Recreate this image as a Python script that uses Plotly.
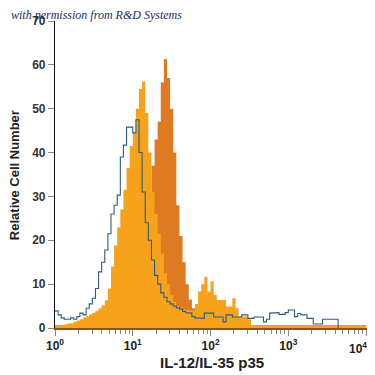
import numpy as np
import plotly.graph_objects as go

# Histogram bins in log10 units (0.04 decade wide), 0..4
n_bins = 100
bin_edges_log = np.linspace(0, 4, n_bins + 1)

# Isotype control (blue outline)
isotype_counts = [
    3.9, 3.0, 2.3, 2.0, 2.0, 2.3, 2.0, 2.6, 3.4, 3.0,
    4.5, 5.5, 6.8, 9.0, 12.8, 15.0, 17.8, 21.5, 26.0, 28.0,
    30.3, 39.0, 41.7, 45.8, 45.8, 44.5, 47.5, 40.0, 31.0, 24.0,
    20.0, 15.5, 12.0, 10.0, 8.0, 7.0, 6.0, 5.5, 5.0, 4.6,
    4.3, 3.8, 3.5, 3.4, 2.6, 2.3, 2.2, 2.2, 3.4, 3.4,
    3.4, 2.5, 2.5, 2.5, 1.4, 3.0, 3.0, 2.5, 2.5, 2.5,
    3.0, 3.0, 2.2, 2.2, 2.5, 2.5, 2.5, 1.4, 2.0, 3.4,
    3.4, 3.5, 3.1, 3.1, 3.5, 4.1, 4.1, 2.6, 3.3, 3.0,
    3.0, 2.2, 2.2, 0.9, 0.9, 0.9, 2.0, 2.0, 2.0, 2.0,
    2.0,
]

# Stained sample 1 (light orange fill)
light_counts = [
    0.5, 0.6, 0.7, 0.8, 1.0, 1.1, 1.4, 1.7, 2.0, 2.4,
    2.7, 3.1, 3.5, 3.9, 4.5, 5.2, 6.3, 9.0, 14.0, 18.8,
    23.0, 27.0, 31.5, 36.5, 41.5, 44.5, 50.0, 54.5, 56.2, 49.0,
    40.0, 31.0, 26.0, 21.5, 17.0, 12.5, 10.0, 7.5, 6.0, 5.0,
    4.7, 4.3, 4.1, 4.0, 4.0, 5.5, 8.3, 10.0, 11.7, 8.3,
    10.6, 7.5, 6.4, 6.4, 6.4, 4.9, 4.9, 6.8, 4.5, 2.6,
    2.6, 2.6, 2.0, 0.7, 0.7, 0.7, 0.7, 0.7, 0.7, 0.7,
    0.7, 0.7, 0.7, 0.7, 0.7, 0.7, 0.7, 0.7, 0.7, 0.7,
    0.7, 0.7, 0.7, 0.7, 0.7, 0.7, 0.7, 0.7, 0.7, 0.7,
    0.7, 0.7, 0.7, 0.7, 0.7, 0.7, 0.7, 0.7, 0.7, 0.7,
]

# Stained sample 2 (dark orange fill)
dark_counts = [
    0.6, 0.6, 0.6, 0.6, 0.6, 0.6, 0.6, 0.6, 0.6, 0.6,
    0.6, 0.6, 0.6, 0.6, 0.6, 0.6, 0.6, 1.0, 2.0, 3.0,
    5.0, 7.0, 9.0, 11.0, 14.0, 17.0, 20.0, 23.0, 26.0, 28.0,
    31.0, 37.0, 43.0, 47.0, 56.0, 61.3, 57.0, 50.0, 40.0, 28.0,
    21.0, 15.0, 10.0, 6.5, 4.5, 3.5, 3.0, 3.0, 3.0, 2.5,
    2.0, 1.5, 1.0, 0.6, 0.6, 0.6, 0.6, 0.6, 0.6, 0.6,
    0.6, 0.6, 0.6, 0.6, 0.6, 0.6, 0.6, 0.6, 0.6, 0.6,
    0.6, 0.6, 0.6, 0.6, 0.6, 0.6, 0.6, 0.6, 0.6, 0.6,
    0.6, 0.6, 0.6, 0.6, 0.6, 0.6, 0.6, 0.6, 0.6, 0.6,
    0.6, 0.6, 0.6, 0.6, 0.6, 0.6, 0.6, 0.6, 0.6, 0.6,
]

x_tick_exps = [0, 1, 2, 3, 4]
x_tick_labels = ["10<sup>0</sup>", "10<sup>1</sup>", "10<sup>2</sup>", "10<sup>3</sup>", "10<sup>4</sup>"]
y_tick_vals = [0, 10, 20, 30, 40, 50, 60, 70]

LIGHT = "#F7A21B"
DARK = "#DE7A22"
BLUE = "#2D5E7E"


def step_fill(counts):
    xs, ys = [], []
    n = len(counts)
    for i, c in enumerate(counts):
        xs += [10 ** bin_edges_log[i], 10 ** bin_edges_log[i + 1]]
        ys += [c, c]
    xs = [10 ** bin_edges_log[0]] + xs + [10 ** bin_edges_log[n]]
    ys = [0] + ys + [0]
    return xs, ys


fig = go.Figure()

dx, dy = step_fill(dark_counts)
fig.add_trace(go.Scatter(x=dx, y=dy, mode="lines", fill="toself", fillcolor=DARK,
                         line=dict(width=0, color=DARK), hoverinfo="skip"))
lx, ly = step_fill(light_counts)
fig.add_trace(go.Scatter(x=lx, y=ly, mode="lines", fill="toself", fillcolor=LIGHT,
                         line=dict(width=0, color=LIGHT), hoverinfo="skip"))

# blue outline step line
bx, by = [], []
for i, c in enumerate(isotype_counts):
    bx += [10 ** bin_edges_log[i], 10 ** bin_edges_log[i + 1]]
    by += [c, c]
bx.append(10 ** bin_edges_log[len(isotype_counts)])
by.append(0)
fig.add_trace(go.Scatter(x=bx, y=by, mode="lines", line=dict(color=BLUE, width=1.1),
                         hoverinfo="skip"))

FONT = "Liberation Sans Narrow, Arial Narrow, Liberation Sans, Arial"
TICKFONT = dict(family=FONT, size=12, color="#222222", weight="bold")

# page body has an 8px margin, so the figure is sized to fit the 375px window
fig.update_layout(
    width=367, height=367,
    margin=dict(l=47, r=5, t=13, b=47),
    paper_bgcolor="white", plot_bgcolor="white",
    showlegend=False,
    font=dict(family=FONT, color="#222222"),
    xaxis=dict(
        type="log", range=[0, 4.05], automargin=False,
        tickvals=[10 ** e for e in x_tick_exps],
        ticktext=x_tick_labels[:-1] + [""],
        ticks="outside", ticklen=6, tickcolor="#888888", tickwidth=1,
        minor=dict(ticks="outside", ticklen=4, tickcolor="#888888", dtick="D1", showgrid=False),
        showline=True, linecolor="#8A5420", linewidth=1.5,
        showgrid=False, zeroline=False,
        tickfont=TICKFONT,
    ),
    yaxis=dict(
        range=[0, 70], tickvals=y_tick_vals, automargin=False,
        ticks="outside", ticklen=6, tickcolor="#888888",
        showline=True, linecolor="#111111", linewidth=1.2,
        showgrid=False, zeroline=False,
        tickfont=dict(family=FONT, size=12, color="#333333", weight="bold"),
    ),
)

# last x tick label (kept inside the visible window)
fig.add_annotation(
    text=x_tick_labels[-1], xref="x", yref="paper",
    x=x_tick_exps[-1], y=0, yshift=-10, xshift=-8,
    xanchor="center", yanchor="top", showarrow=False, font=TICKFONT,
)

# axis titles
fig.add_annotation(
    text="<b>IL-12/IL-35 p35</b>", xref="paper", yref="paper",
    x=0.498, y=-0.111, xanchor="center", yanchor="middle", showarrow=False,
    font=dict(family=FONT, size=15, color="#222222"),
)
fig.add_annotation(
    text="<b>Relative Cell Number</b>", xref="paper", yref="paper",
    x=-0.130, y=0.498, xanchor="center", yanchor="middle", showarrow=False, textangle=-90,
    font=dict(family=FONT, size=13, color="#222222"),
)

fig.add_annotation(
    text="<i>with permission from R&amp;D Systems</i>",
    xref="paper", yref="paper", x=-0.145, y=1.021, xanchor="left", yanchor="middle",
    showarrow=False,
    font=dict(family="Liberation Serif, DejaVu Serif, serif", size=12, color="#1F2A55"),
)

fig.write_html("out.html")
